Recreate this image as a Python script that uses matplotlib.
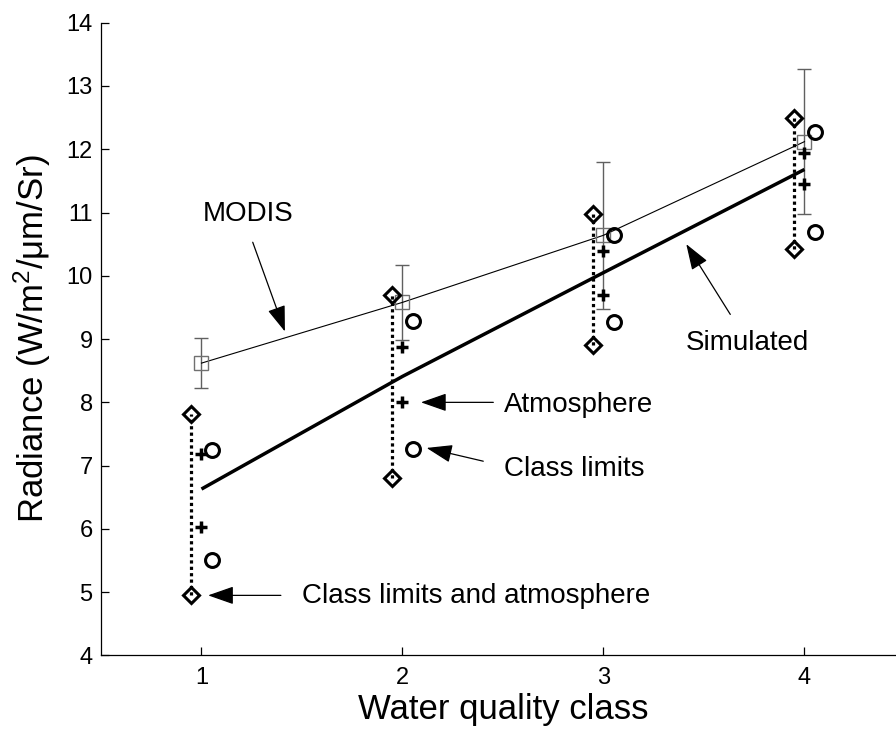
import matplotlib
matplotlib.use("Agg")
import matplotlib.pyplot as plt
import numpy as np

plt.rcParams['font.family'] = ['Liberation Sans', 'DejaVu Sans']
plt.rcParams['mathtext.default'] = 'regular'

# ---- data ----
classes = np.array([1, 2, 3, 4])
modis = [8.62, 9.58, 10.64, 12.12]
modis_err = [0.40, 0.59, 1.16, 1.15]
simulated = [6.63, 8.41, 10.05, 11.68]
cla_top = [7.82, 9.70, 10.98, 12.50]      # class limits and atmosphere (diamonds)
cla_bottom = [4.96, 6.80, 8.91, 10.43]
atm_high = [7.18, 8.88, 10.39, 11.94]     # atmosphere (+)
atm_low = [6.03, 8.00, 9.69, 11.45]
cl_high = [7.25, 9.28, 10.64, 12.27]      # class limits (o)
cl_low = [5.51, 7.27, 9.27, 10.69]

xticks = [1, 2, 3, 4]
yticks = list(range(4, 15))
xlabel = 'Water quality class'
ylabel = r'Radiance (W/m$^{2}$/μm/Sr)'

fig = plt.figure(figsize=(8.96, 7.31), dpi=100)
ax = fig.add_axes([0.1127, 0.1033, 0.8973, 0.8657])

off = 0.05
# MODIS with error bars
ax.errorbar(classes, modis, yerr=modis_err, fmt='none', ecolor='#606060',
            elinewidth=1.0, capsize=4.7, capthick=1.0, zorder=2)
ax.plot(classes, modis, color='black', lw=0.8, zorder=3)
ax.plot(classes, modis, ls='none', marker='s', ms=10.5, mfc='none',
        mec='#707070', mew=1.0, zorder=4)

# Simulated
ax.plot(classes, simulated, color='black', lw=2.5, zorder=3,
        solid_capstyle='butt')

# dotted ranges between diamonds
for c, t, b in zip(classes, cla_top, cla_bottom):
    ax.plot([c - off, c - off], [b, t], color='black', lw=2.3,
            ls=(0, (1, 1)), dash_capstyle='butt', zorder=3)

ax.plot(classes - off, cla_top, ls='none', marker='D', ms=8, mfc='none',
        mec='black', mew=2.2, zorder=5)
ax.plot(classes - off, cla_bottom, ls='none', marker='D', ms=8, mfc='none',
        mec='black', mew=2.2, zorder=5)
ax.plot(classes, atm_high, ls='none', marker='+', ms=9, mec='black',
        mew=2.5, zorder=5)
ax.plot(classes, atm_low, ls='none', marker='+', ms=9, mec='black',
        mew=2.5, zorder=5)
ax.plot(classes + off, cl_high, ls='none', marker='o', ms=10, mfc='none',
        mec='black', mew=2.2, zorder=5)
ax.plot(classes + off, cl_low, ls='none', marker='o', ms=10, mfc='none',
        mec='black', mew=2.2, zorder=5)

# annotations
aprops = dict(arrowstyle='-|>,head_length=0.8,head_width=0.28', color='black',
              lw=0.9, shrinkA=0, shrinkB=0, mutation_scale=20)
fs_ann = 20
ax.text(1.006, 10.86, 'MODIS', fontsize=fs_ann, va='baseline', ha='left')
ax.annotate('', xy=(1.415, 9.12), xytext=(1.255, 10.53), arrowprops=aprops)
ax.text(3.407, 8.83, 'Simulated', fontsize=fs_ann, va='baseline', ha='left')
ax.annotate('', xy=(3.412, 10.50), xytext=(3.631, 9.39), arrowprops=aprops)
ax.text(2.505, 7.84, 'Atmosphere', fontsize=fs_ann, va='baseline', ha='left')
ax.annotate('', xy=(2.092, 8.0), xytext=(2.452, 8.0), arrowprops=aprops)
ax.text(2.505, 6.83, 'Class limits', fontsize=fs_ann, va='baseline', ha='left')
ax.annotate('', xy=(2.12, 7.28), xytext=(2.402, 7.07), arrowprops=aprops)
ax.text(1.498, 4.83, 'Class limits and atmosphere', fontsize=fs_ann,
        va='baseline', ha='left')
ax.annotate('', xy=(1.033, 4.95), xytext=(1.395, 4.95), arrowprops=aprops)

# axes styling
ax.set_xlim(0.5, 4.5)
ax.set_ylim(4, 14)
ax.set_xticks(xticks)
ax.set_yticks(yticks)
ax.spines['top'].set_visible(False)
ax.spines['right'].set_visible(False)
for s in ('left', 'bottom'):
    ax.spines[s].set_linewidth(0.9)
    ax.spines[s].set_color('black')
ax.tick_params(axis='both', direction='in', length=6, width=0.9,
               labelsize=17, colors='black')
ax.tick_params(axis='x', pad=8)
ax.tick_params(axis='y', pad=6)

ax.set_xlabel(xlabel, fontsize=25)
ax.set_ylabel(ylabel, fontsize=25)
ax.xaxis.set_label_coords(0.5, -0.060)
ax.yaxis.set_label_coords(-0.0597, 0.5)

fig.savefig('out.png', dpi=100)
